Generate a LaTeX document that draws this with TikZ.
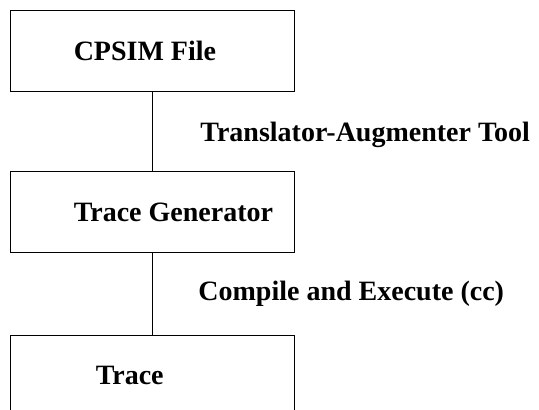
\documentclass[tikz,border=0pt]{standalone}
\usepackage{fontspec}
\setmainfont{Liberation Serif}
\usetikzlibrary{positioning}
\tikzstyle{block} = [rectangle, minimum width=284pt, minimum height=81pt, draw=black, line width=0.9pt]
\tikzstyle{blocktext} = [inner sep=0pt, font=\bfseries\fontsize{28}{32}\selectfont]
\tikzstyle{conn} = [draw=black, line width=0.9pt]

\begin{document}
\begin{tikzpicture}[x=1pt, y=-1pt]
				\clip (0,0) rectangle (539,410);
				\node (file) [block] at (152,51) {};
				\node (gen) [block, below=79pt of file] {};
				\node (trace) [block, below=82pt of gen] {};
				\node (filetxt) [blocktext, right=64pt of file.west] {CPSIM File};
				\node (gentxt) [blocktext, right=64pt of gen.west] {Trace Generator};
				\node (tracetxt) [blocktext, right=86pt of trace.west] {Trace};

				\draw [conn] (file) -- node[blocktext, right=48pt, yshift=-3pt] {Translator-Augmenter Tool} (gen);
				\draw [conn] (gen) -- node[blocktext, right=46pt] {Compile and Execute (cc)} (trace);
			\end{tikzpicture}
\end{document}
